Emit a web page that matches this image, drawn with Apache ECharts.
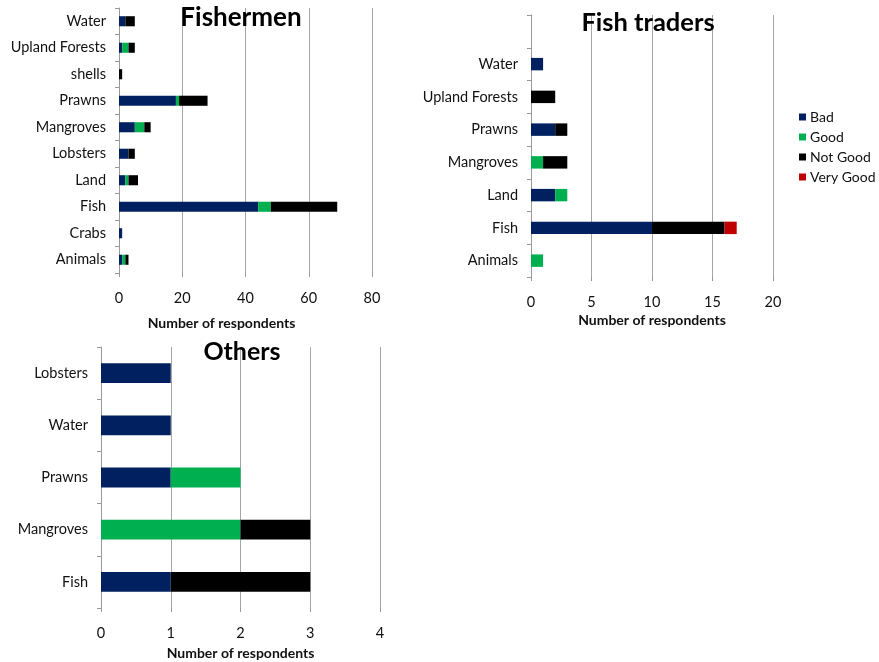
<!DOCTYPE html>
<html>
<head>
<meta charset="utf-8">
<script src="https://cdn.jsdelivr.net/npm/echarts@6/dist/echarts.min.js"></script>
<style>
  html, body { margin: 0; padding: 0; background: #fff; }
  #chart { width: 879px; height: 662px; }
</style>
</head>
<body>
<div id="chart"></div>
<script>
// Fishermen (top to bottom)
const fishermenCats = ['Water', 'Upland Forests', 'shells', 'Prawns', 'Mangroves', 'Lobsters', 'Land', 'Fish', 'Crabs', 'Animals']
const fishermenBad = [2, 1, 0, 18, 5, 3, 2, 44, 1, 1]
const fishermenGood = [0, 2, 0, 1, 3, 0, 1, 4, 0, 1]
const fishermenNotGood = [3, 2, 1, 9, 2, 2, 3, 21, 0, 1]

// Fish traders (top slot left blank as in the original)
const tradersCats = ['', 'Water', 'Upland Forests', 'Prawns', 'Mangroves', 'Land', 'Fish', 'Animals']
const tradersBad = [0, 1, 0, 2, 0, 2, 10, 0]
const tradersGood = [0, 0, 0, 0, 1, 1, 0, 1]
const tradersNotGood = [0, 0, 2, 1, 2, 0, 6, 0]
const tradersVeryGood = [0, 0, 0, 0, 0, 0, 1, 0]

// Others
const othersCats = ['Lobsters', 'Water', 'Prawns', 'Mangroves', 'Fish']
const othersBad = [1, 1, 1, 0, 1]
const othersGood = [0, 0, 1, 2, 0]
const othersNotGood = [0, 0, 0, 1, 2]

const colors = { 'Bad': '#002060', 'Good': '#00b050', 'Not Good': '#000000', 'Very Good': '#c00000' }
const font = 'Lato, "Open Sans", sans-serif'

const myChart = echarts.init(document.getElementById('chart'), null, { renderer: 'canvas' })

function valueAxis(idx, max, interval, nameGap, namePad) {
  return {
    type: 'value', gridIndex: idx, min: 0, max: max, interval: interval,
    name: 'Number of respondents', nameLocation: 'middle', nameGap: nameGap,
    nameTextStyle: { fontFamily: font, fontWeight: 'bold', fontSize: 14, color: '#111', padding: namePad },
    axisLine: { show: false },
    axisTick: { show: true, length: 4, lineStyle: { color: '#999' } },
    axisLabel: { fontFamily: font, fontSize: 14.5, color: '#111', margin: 18 },
    splitLine: { show: true, lineStyle: { color: '#a6a6a6', width: 1 } }
  }
}

function catAxis(idx, data) {
  return {
    type: 'category', gridIndex: idx, data: data, inverse: true,
    axisLine: { show: true, lineStyle: { color: '#999' } },
    axisTick: { show: true, length: 4, lineStyle: { color: '#999' } },
    axisLabel: { fontFamily: font, fontSize: 14.5, color: '#111', margin: 13 }
  }
}

function bar(name, idx, data) {
  return {
    name: name, type: 'bar', stack: 's' + idx, xAxisIndex: idx, yAxisIndex: idx,
    data: data, barWidth: '38%', itemStyle: { color: colors[name] }, animation: false
  }
}

function title(text, x, y, size) {
  return {
    text: text, left: x, top: y, textAlign: 'center', padding: 0,
    textStyle: { fontFamily: font, fontWeight: 'bold', fontSize: size, color: '#000' }
  }
}

myChart.setOption({
  animation: false,
  title: [title('Fishermen', 241, 5, 26), title('Fish traders', 648, 10, 25.5), title('Others', 242, 339, 25)],
  legend: {
    data: ['Bad', 'Good', 'Not Good', 'Very Good'],
    orient: 'vertical', left: 799, top: 110, padding: 0,
    itemWidth: 7, itemHeight: 7, itemGap: 6,
    icon: 'rect',
    textStyle: { fontFamily: font, fontSize: 14, color: '#111', padding: [0, 0, 0, -1] }
  },
  grid: [
    { left: 119, top: 8, width: 253, height: 265 },
    { left: 531, top: 15, width: 242, height: 262 },
    { left: 101, top: 347, width: 279, height: 261 }
  ],
  xAxis: [
    valueAxis(0, 80, 20, 43, [0, 48, 0, 0]),
    valueAxis(1, 20, 5, 36, 0),
    valueAxis(2, 4, 1, 38, 0)
  ],
  yAxis: [catAxis(0, fishermenCats), catAxis(1, tradersCats), catAxis(2, othersCats)],
  series: [
    bar('Bad', 0, fishermenBad),
    bar('Good', 0, fishermenGood),
    bar('Not Good', 0, fishermenNotGood),
    bar('Bad', 1, tradersBad),
    bar('Good', 1, tradersGood),
    bar('Not Good', 1, tradersNotGood),
    bar('Very Good', 1, tradersVeryGood),
    bar('Bad', 2, othersBad),
    bar('Good', 2, othersGood),
    bar('Not Good', 2, othersNotGood)
  ]
})
</script>
</body>
</html>
